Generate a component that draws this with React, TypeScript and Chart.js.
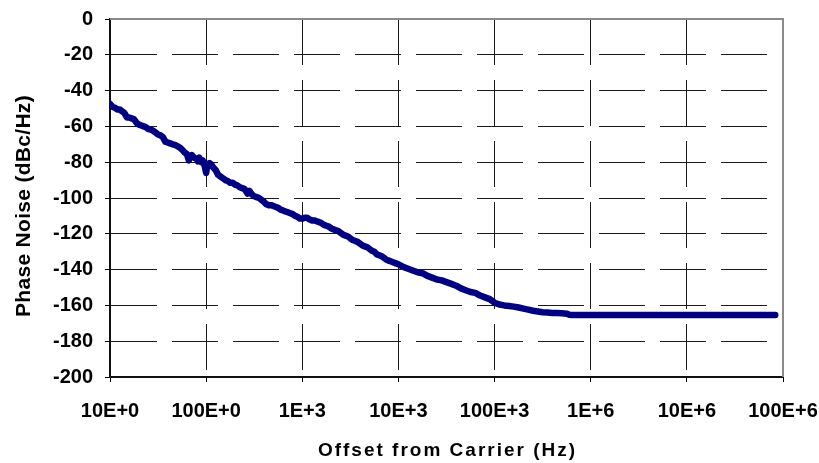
import React, { useEffect, useRef } from "react";
import { Chart, registerables } from "chart.js";

Chart.register(...registerables);

// Offset frequency (Hz)
const offsetHz: number[] = [
  10, 10.6, 11.2, 11.9, 12.6, 13.3, 14.1, 15, 15.8, 16.8, 17.8, 18.9, 20, 21.2, 22.4, 23.7, 25.1, 26.6, 28.2, 29.9, 31.6, 33.5, 35.5, 37.6, 39.8, 42.2, 44.7, 47.3, 50.1, 53.1, 56.2, 59.6, 63.1, 66, 68.5, 70.8, 75, 79.4, 82, 85, 89.1, 92, 95, 97,
  100, 103, 108, 112, 119, 126, 133, 141, 150, 158, 168, 178, 189, 200, 212, 224, 237, 251, 262, 270, 282, 299, 316, 335, 355, 376, 398, 422, 447, 473, 501, 531, 562, 596, 631, 668, 708, 750, 794, 841, 891, 944,
  1000, 1060, 1120, 1190, 1260, 1330, 1410, 1500, 1580, 1680, 1780, 1890, 2000, 2120, 2240, 2370, 2510, 2660, 2820, 2990, 3160, 3350, 3550, 3760, 3980, 4220, 4470, 4730, 5010, 5310, 5620, 5960, 6310, 6680, 7080, 7500, 7940, 8410, 8910, 9440,
  10000, 11200, 12600, 14100, 15800, 17800, 20000, 22400, 25100, 28200, 31600, 35500, 39800, 44700, 50100, 56200, 63100, 70800, 79400, 89100,
  100000, 112000, 126000, 141000, 158000, 178000, 200000, 224000, 251000, 282000, 316000, 355000, 398000, 447000, 501000, 562000, 600000, 631000, 708000,
  1000000, 3000000, 10000000, 30000000, 83000000,
];

// Phase noise (dBc/Hz)
const phaseNoise: number[] = [
  -47.5, -49, -49.5, -50.5, -50.5, -51.5, -52.5, -55, -55, -55.5, -56, -58, -59, -59.5, -60, -60.5, -61.5, -61.8, -62.5, -63.5, -64.5, -65, -66, -68.5, -69, -69.5, -70, -70.3, -71, -71.8, -73, -74.5, -75.5, -79, -76.5, -76, -77.5, -78, -79.5, -77.5, -80, -79, -81, -82.5,
  -86, -81, -80.5, -81, -83, -84.5, -87, -88, -89, -90, -90.5, -91.5, -91.5, -92.5, -93, -94, -94.5, -95, -96.5, -97.5, -96, -98, -99, -99.5, -100, -101, -102, -103.5, -104, -104, -104.5, -105, -105.5, -106.5, -107, -107.5, -108, -108.5, -109, -110, -110.5, -111.5,
  -111.5, -111, -111, -112, -112.5, -112.5, -113, -113.5, -114, -115, -115.5, -116, -117, -117.5, -118, -118.5, -119.5, -120.5, -121, -121.5, -122.5, -123.5, -124, -124.5, -125.5, -126.5, -127, -127.5, -128.5, -129.5, -130, -131.5, -132, -132.5, -133.5, -134.5, -135, -135.5, -136, -136.5,
  -137, -138.5, -139.5, -140.5, -141.5, -142, -143.5, -144.5, -145.5, -146, -147, -148, -149, -150.5, -151.5, -152.5, -153, -154.5, -155.5, -156.5,
  -158.5, -159.5, -160, -160.3, -160.7, -161.2, -161.8, -162.4, -163, -163.4, -163.8, -164, -164.2, -164.3, -164.4, -164.6, -165.2, -165.3, -165.3,
  -165.3, -165.3, -165.3, -165.3, -165.3,
];

const xTickValues: number[] = [10, 100, 1000, 10000, 100000, 1000000, 10000000, 100000000];
const xTickLabels: string[] = ["10E+0", "100E+0", "1E+3", "10E+3", "100E+3", "1E+6", "10E+6", "100E+6"];
const yMin = -200;
const yMax = 0;
const yStep = 20;

const xTitle = "Offset from Carrier (Hz)";
const yTitle = "Phase Noise (dBc/Hz)";

const FONT = "'Liberation Sans', Arial, sans-serif";

export default function App() {
  const ref = useRef<HTMLCanvasElement | null>(null);

  useEffect(() => {
    if (!ref.current) return;
    const frame = {
      id: "frame",
      beforeDatasetsDraw(chart: any) {
        const { ctx, chartArea } = chart;
        ctx.save();
        ctx.strokeStyle = "#8a8a8a";
        ctx.lineWidth = 2;
        ctx.beginPath();
        ctx.moveTo(chartArea.left, chartArea.top);
        ctx.lineTo(chartArea.right, chartArea.top);
        ctx.lineTo(chartArea.right, chartArea.bottom);
        ctx.stroke();
        ctx.restore();
      },
      afterDraw(chart: any) {
        const { ctx, chartArea } = chart;
        ctx.save();
        ctx.fillStyle = "#000";
        ctx.font = `bold 19px ${FONT}`;
        (ctx as any).letterSpacing = "2px";
        ctx.textAlign = "center";
        ctx.textBaseline = "alphabetic";
        ctx.fillText(xTitle, (chartArea.left + chartArea.right) / 2 + 1, 456);
        (ctx as any).letterSpacing = "0.3px";
        ctx.font = `bold 21px ${FONT}`;
        ctx.translate(30, 206);
        ctx.rotate(-Math.PI / 2);
        ctx.fillText(yTitle, 0, 0);
        ctx.restore();
      },
    };

    const chart = new Chart(ref.current, {
      type: "line",
      data: {
        datasets: [
          {
            data: offsetHz.map((x, i) => ({ x, y: phaseNoise[i] })),
            borderColor: "#000080",
            backgroundColor: "#000080",
            borderWidth: 6.5,
            pointRadius: 0,
            tension: 0,
            borderJoinStyle: "round",
            borderCapStyle: "round",
          },
        ],
      },
      options: {
        responsive: false,
        animation: false,
        events: [],
        layout: { padding: { top: 19, right: 36, left: 0, bottom: 0 } },
        plugins: { legend: { display: false }, tooltip: { enabled: false }, title: { display: false } },
        scales: {
          x: {
            type: "logarithmic",
            min: 10,
            max: 100000000,
            afterBuildTicks: (s: any) => {
              s.ticks = xTickValues.map((v) => ({ value: v }));
            },
            afterFit: (s: any) => {
              s.height = 86;
              s.paddingLeft = 0;
              s.paddingRight = 0;
            },
            ticks: {
              autoSkip: false,
              maxRotation: 0,
              minRotation: 0,
              padding: 17,
              color: "#000",
              font: { family: FONT, size: 20, weight: "bold" },
              callback: (_v: any, i: number) => xTickLabels[i],
            },
            grid: {
              color: (c: any) => (c.index === xTickValues.length - 1 ? "rgba(0,0,0,0)" : "#1a1a1a"),
              lineWidth: 1,
              tickLength: 5,
              tickColor: "#000",
              tickWidth: 1,
            },
            border: { display: true, color: "#111", width: 2, dash: [46, 15] },
          },
          y: {
            type: "linear",
            min: yMin,
            max: yMax,
            afterFit: (s: any) => {
              s.width = 110;
              s.paddingTop = 0;
              s.paddingBottom = 0;
            },
            ticks: {
              stepSize: yStep,
              padding: 12,
              color: "#000",
              font: { family: FONT, size: 20, weight: "bold" },
            },
            grid: {
              color: (c: any) => (c.tick && c.tick.value === yMax ? "rgba(0,0,0,0)" : "#1a1a1a"),
              lineWidth: 1,
              tickLength: 5,
              tickColor: "#000",
              tickWidth: 1,
            },
            border: { display: true, color: "#111", width: 2, dash: [46, 15] },
          },
        },
      },
      plugins: [frame],
    } as any);
    return () => chart.destroy();
  }, []);

  return (
    <div style={{ position: "absolute", left: 0, top: 0, width: 819, height: 463, background: "#fff" }}>
      <canvas ref={ref} width={819} height={463} style={{ display: "block" }} />
    </div>
  );
}
